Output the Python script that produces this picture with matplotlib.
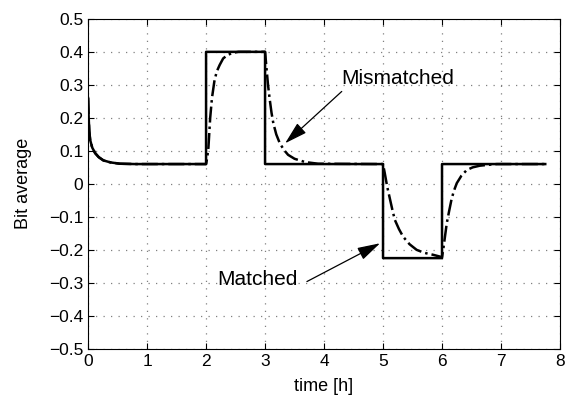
import numpy as np
import matplotlib
matplotlib.use('Agg')
import matplotlib.pyplot as plt

plt.rcParams['font.family'] = ['Liberation Sans', 'DejaVu Sans']

# transitorio inicial (comun a las dos curvas)
t_inicio = [0, 0.01, 0.02, 0.035, 0.07, 0.12, 0.18, 0.26, 0.38, 0.54, 0.8]
y_inicio = [0.26, 0.20, 0.16, 0.133, 0.11, 0.093, 0.081, 0.071, 0.065, 0.061, 0.06]

# curva "Matched": escalones
t_matched = t_inicio + [2.0, 2.0, 3.0, 3.0, 5.0, 5.0, 6.0, 6.0, 7.75]
y_matched = y_inicio + [0.06, 0.40, 0.40, 0.06, 0.06, -0.225, -0.225, 0.06, 0.06]

# curva "Mismatched": respuesta lenta
t_mismatched = t_inicio + [
    2.0, 2.02, 2.04, 2.07, 2.10, 2.14, 2.18, 2.23, 2.29, 2.36, 2.45, 2.55,
    3.0, 3.02, 3.05, 3.08, 3.11, 3.14, 3.19, 3.25, 3.32, 3.39, 3.5, 3.68, 3.9,
    5.0, 5.03, 5.07, 5.12, 5.16, 5.20, 5.27, 5.34, 5.45, 5.57, 5.7, 5.85, 6.0,
    6.02, 6.05, 6.08, 6.12, 6.16, 6.2, 6.25, 6.33, 6.42, 6.52, 6.64, 6.8, 6.93,
    7.75]
y_mismatched = y_inicio + [
    0.06, 0.08, 0.11, 0.20, 0.26, 0.31, 0.34, 0.36, 0.38, 0.39, 0.397, 0.40,
    0.40, 0.36, 0.30, 0.255, 0.215, 0.184, 0.15, 0.123, 0.103, 0.088, 0.076,
    0.066, 0.061,
    0.06, 0.032, -0.008, -0.048, -0.08, -0.109, -0.137, -0.16, -0.183, -0.20,
    -0.209, -0.215, -0.222,
    -0.2, -0.16, -0.12, -0.083, -0.048, -0.022, 0.002, 0.025, 0.042, 0.05,
    0.055, 0.058, 0.06,
    0.06]

x_ticks = np.arange(0, 9, 1)
y_ticks = np.round(np.arange(-0.5, 0.51, 0.1), 1)

fig = plt.figure(figsize=(5.72, 4.01), dpi=100)
ax = fig.add_axes([0.154, 0.130, 0.825, 0.823])

ax.plot(t_mismatched, y_mismatched, '-.', color='black', lw=1.8)
ax.plot(t_matched, y_matched, '-', color='black', lw=1.8)

ax.set_xlim(0, 8)
ax.set_ylim(-0.5, 0.5)
ax.set_xticks(x_ticks)
ax.set_yticks(y_ticks)
ax.set_yticklabels(['0' if v == 0 else f'{v:g}'.replace('-', '\u2212') for v in y_ticks])
ax.tick_params(direction='in', top=True, right=True, labelsize=12.5, length=4)
ax.grid(True, linestyle=(0, (1, 5)), color='gray', lw=0.9)

ax.set_xlabel('time [h]', fontsize=13, labelpad=7)
ax.set_ylabel('Bit average', fontsize=13, labelpad=12)

# textos y flechas
flecha = dict(arrowstyle='-|>,head_length=1.4,head_width=0.4',
              color='black', lw=0.9, shrinkA=0, shrinkB=0)
ax.text(4.3, 0.32, 'Mismatched', fontsize=15, va='center', ha='left')
ax.annotate('', xy=(3.34, 0.123), xytext=(4.3, 0.28), arrowprops=flecha)
ax.text(3.56, -0.29, 'Matched', fontsize=15, va='center', ha='right')
ax.annotate('', xy=(4.95, -0.18), xytext=(3.71, -0.296), arrowprops=flecha)

fig.savefig('out.png', dpi=100)
